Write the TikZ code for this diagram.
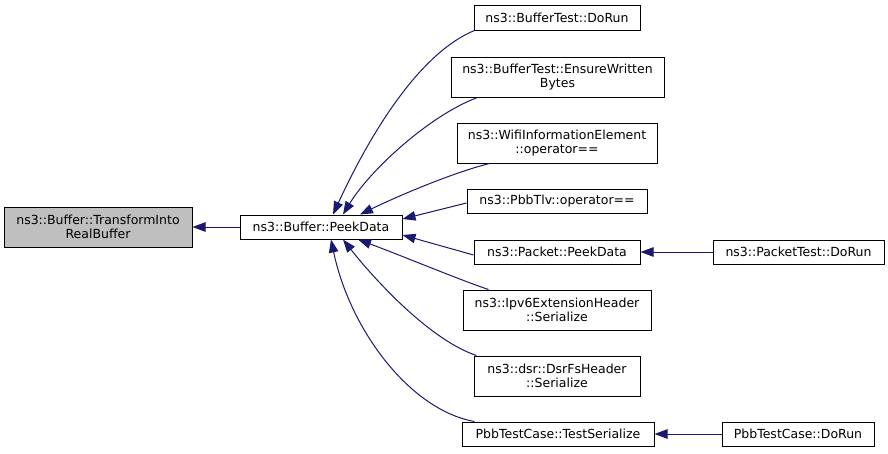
\documentclass[tikz,border=0pt]{standalone}
\usepackage{fontspec}
\setmainfont{DejaVu Sans}
\usetikzlibrary{arrows.meta}
\definecolor{edgeblue}{HTML}{191970}
\definecolor{rootgray}{HTML}{BFBFBF}
\tikzset{
  fn/.style={draw=black, line width=1pt, fill=white, align=center, inner sep=0pt,
    font=\fontsize{12.5}{14.5}\selectfont, text=black},
  fnroot/.style={fn, fill=rootgray},
  edge/.style={draw=edgeblue, line width=1pt, {Triangle[length=13pt,width=9.5pt,fill=edgeblue]}-},
}
\begin{document}
\begin{tikzpicture}[x=1pt,y=-1pt]
\useasboundingbox (0,0) rectangle (888,453);
\node[fnroot, minimum width=188pt, minimum height=40pt] (T) at (98,227) {ns3::Buffer::TransformInto\\RealBuffer};
\node[fn, minimum width=162pt, minimum height=24pt] (P) at (321,227) {ns3::Buffer::PeekData};
\node[fn, minimum width=166pt, minimum height=25pt] (A) at (557,17.5) {ns3::BufferTest::DoRun};
\node[fn, minimum width=213pt, minimum height=40pt] (B) at (557.5,77) {ns3::BufferTest::EnsureWritten\\Bytes};
\node[fn, minimum width=200pt, minimum height=40pt] (C) at (557,143) {ns3::WifiInformationElement\\::operator==};
\node[fn, minimum width=180pt, minimum height=24pt] (D) at (557,201) {ns3::PbbTlv::operator==};
\node[fn, minimum width=166pt, minimum height=24pt] (E) at (557,252) {ns3::Packet::PeekData};
\node[fn, minimum width=188pt, minimum height=40pt] (F) at (557,310) {ns3::Ipv6ExtensionHeader\\::Serialize};
\node[fn, minimum width=166pt, minimum height=40pt] (G) at (557,376) {ns3::dsr::DsrFsHeader\\::Serialize};
\node[fn, minimum width=192pt, minimum height=24pt] (H) at (558,434) {PbbTestCase::TestSerialize};
\node[fn, minimum width=171pt, minimum height=24pt] (I) at (798.5,252) {ns3::PacketTest::DoRun};
\node[fn, minimum width=152pt, minimum height=24pt] (J) at (798,434) {PbbTestCase::DoRun};

\draw[edge] (T.east) -- (P.west);
\draw[edge] ([xshift=12pt]P.north) .. controls (365,145) and (415,55) .. ([xshift=1pt]A.south west);
\draw[edge] ([xshift=22pt]P.north) .. controls (370,170) and (430,115) .. ([xshift=27pt]B.south west);
\draw[edge] ([xshift=39pt]P.north) .. controls (400,195) and (455,172) .. ([xshift=33pt]C.south west);
\draw[edge] ([yshift=8pt]P.east) -- ([yshift=-2pt]D.west);
\draw[edge] ([yshift=-8pt]P.east) -- ([yshift=-3pt]E.west);
\draw[edge] ([xshift=37pt]P.south) .. controls (400,255) and (460,280) .. ([xshift=26pt]F.north west);
\draw[edge] ([xshift=22pt]P.south) .. controls (375,280) and (430,340) .. ([xshift=3pt]G.north west);
\draw[edge] ([xshift=10pt]P.south) .. controls (350,330) and (410,410) .. ([xshift=13pt]H.north west);
\draw[edge] (E.east) -- (I.west);
\draw[edge] (H.east) -- (J.west);
\end{tikzpicture}
\end{document}
